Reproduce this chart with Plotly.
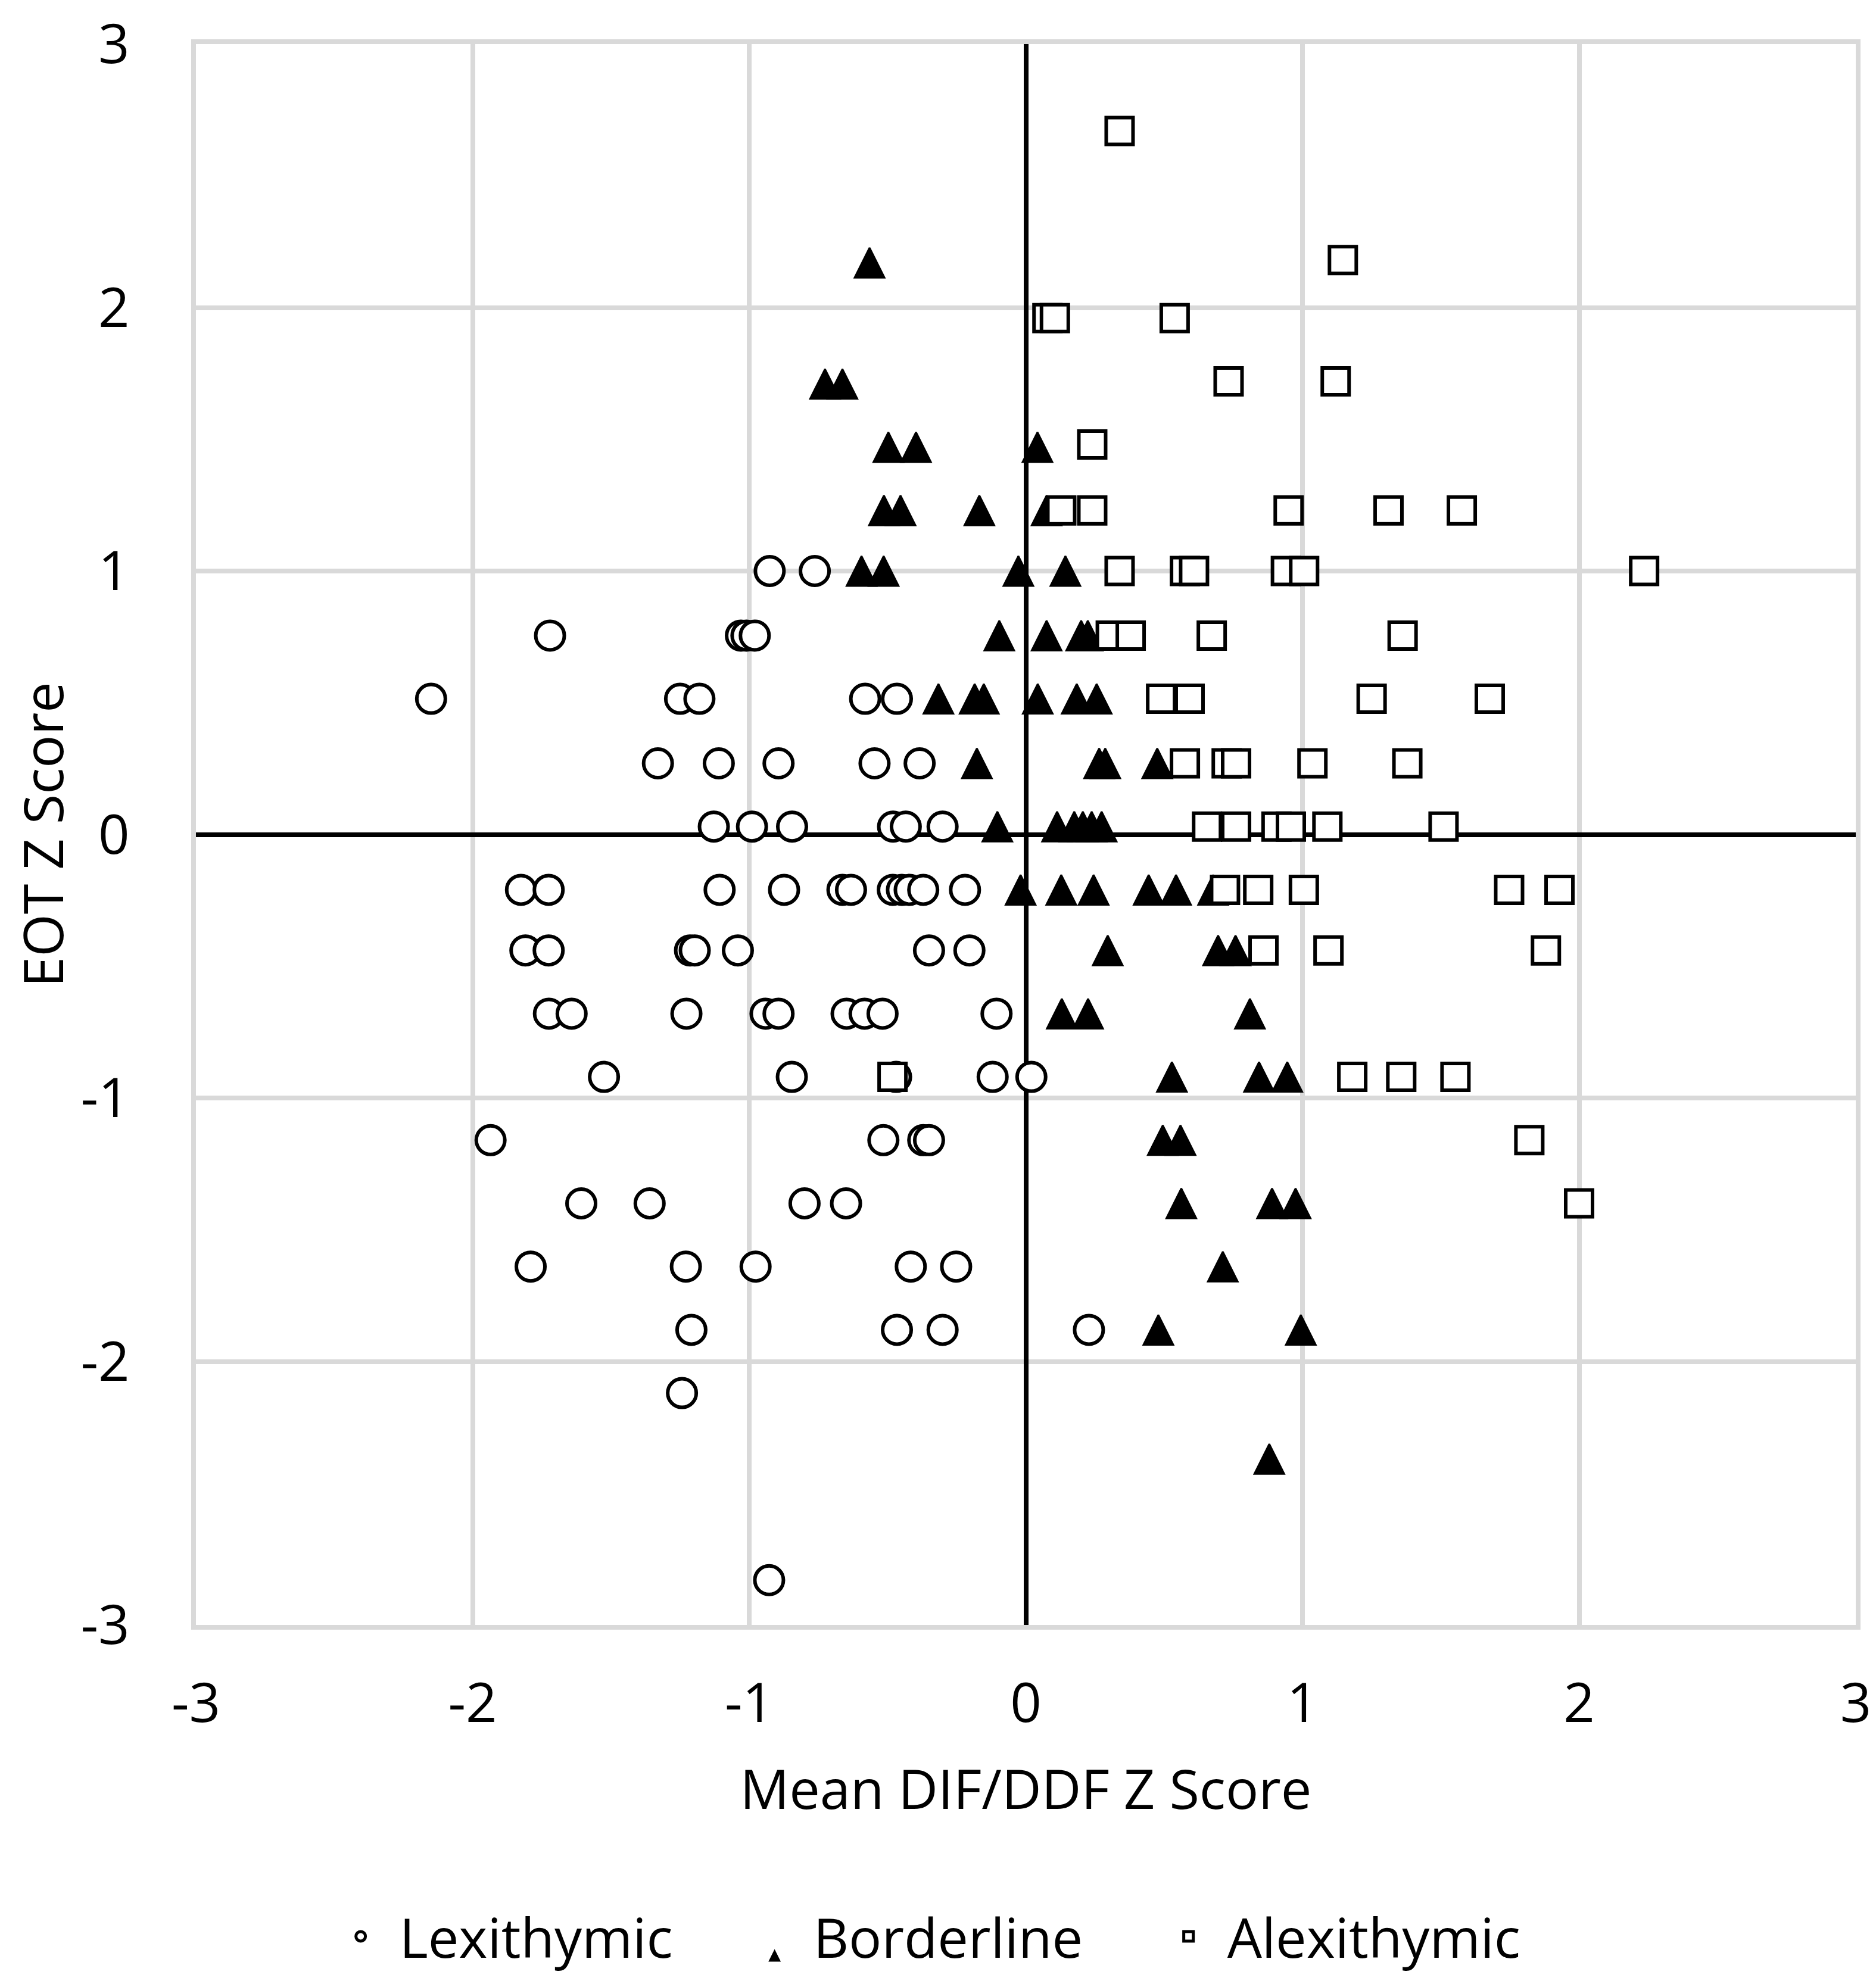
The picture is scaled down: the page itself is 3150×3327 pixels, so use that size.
import plotly.graph_objects as go

# Lexithymic (open circles)
lex_x = [-2.15, -1.25, -1.18, -0.581, -0.466,
         -1.72, -1.03, -1.01, -0.98,
         -0.926, -0.763,
         -1.33, -1.11, -0.894, -0.547, -0.384,
         -1.128, -0.99, -0.845, -0.48, -0.434, -0.301,
         -1.825, -1.725, -1.107, -0.874, -0.663, -0.632, -0.481, -0.448, -0.42, -0.371, -0.22,
         -1.809, -1.725, -1.214, -1.197, -1.041, -0.35, -0.204,
         -1.724, -1.642, -1.227, -0.941, -0.894, -0.648, -0.583, -0.518, -0.106,
         -1.525, -0.846, -0.469, -0.12, 0.02,
         -1.935, -0.515, -0.371, -0.35,
         -1.607, -1.36, -0.8, -0.65,
         -1.79, -1.229, -0.977, -0.416, -0.252,
         -1.209, -0.466, -0.301, 0.228,
         -1.243,
         -0.928]
lex_y = [0.515, 0.515, 0.515, 0.515, 0.515,
         0.755, 0.755, 0.755, 0.755,
         1.0, 1.0,
         0.27, 0.27, 0.27, 0.27, 0.27,
         0.03, 0.03, 0.03, 0.03, 0.03, 0.03,
         -0.21, -0.21, -0.21, -0.21, -0.21, -0.21, -0.21, -0.21, -0.21, -0.21, -0.21,
         -0.44, -0.44, -0.44, -0.44, -0.44, -0.44, -0.44,
         -0.68, -0.68, -0.68, -0.68, -0.68, -0.68, -0.68, -0.68, -0.68,
         -0.92, -0.92, -0.92, -0.92, -0.92,
         -1.16, -1.16, -1.16, -1.16,
         -1.40, -1.40, -1.40, -1.40,
         -1.64, -1.64, -1.64, -1.64, -1.64,
         -1.88, -1.88, -1.88, -1.88,
         -2.12,
         -2.83]

# Borderline (filled triangles)
bor_x = [-0.565,
         -0.726, -0.663,
         -0.497, -0.397, 0.042,
         -0.513, -0.453, -0.168, 0.075,
         -0.594, -0.514, -0.027, 0.143,
         -0.096, 0.075, 0.2, 0.224,
         -0.316, -0.185, -0.152, 0.043, 0.184, 0.256,
         -0.177, 0.265, 0.287, 0.475,
         -0.103, 0.113, 0.175, 0.206, 0.238, 0.274,
         -0.019, 0.128, 0.245, 0.444, 0.543, 0.677,
         0.296, 0.695, 0.758,
         0.13, 0.225, 0.81,
         0.528, 0.843, 0.945,
         0.495, 0.559,
         0.562, 0.89, 0.975,
         0.712,
         0.479, 0.994,
         0.88]
bor_y = [2.17,
         1.71, 1.71,
         1.47, 1.47, 1.47,
         1.23, 1.23, 1.23, 1.23,
         1.0, 1.0, 1.0, 1.0,
         0.755, 0.755, 0.755, 0.755,
         0.515, 0.515, 0.515, 0.515, 0.515, 0.515,
         0.27, 0.27, 0.27, 0.27,
         0.03, 0.03, 0.03, 0.03, 0.03, 0.03,
         -0.21, -0.21, -0.21, -0.21, -0.21, -0.21,
         -0.44, -0.44, -0.44,
         -0.68, -0.68, -0.68,
         -0.92, -0.92, -0.92,
         -1.16, -1.16,
         -1.40, -1.40, -1.40,
         -1.64,
         -1.88, -1.88,
         -2.37]

# Alexithymic (open squares)
alx_x = [0.339,
         1.146,
         0.078, 0.105, 0.538,
         0.733, 1.12,
         0.24,
         0.128, 0.24, 0.95, 1.311, 1.576,
         0.339, 0.575, 0.608, 0.94, 1.006, 2.235,
         0.307, 0.379, 0.672, 1.362,
         0.489, 0.592, 1.25, 1.677,
         0.575, 0.726, 0.76, 1.036, 1.379,
         0.655, 0.76, 0.906, 0.958, 1.09, 1.51,
         0.72, 0.84, 1.005, 1.747, 1.929,
         0.859, 1.094, 1.88,
         -0.482, 1.18, 1.357, 1.553,
         1.82,
         2.0]
alx_y = [2.67,
         2.18,
         1.96, 1.96, 1.96,
         1.72, 1.72,
         1.48,
         1.23, 1.23, 1.23, 1.23, 1.23,
         1.0, 1.0, 1.0, 1.0, 1.0, 1.0,
         0.755, 0.755, 0.755, 0.755,
         0.515, 0.515, 0.515, 0.515,
         0.27, 0.27, 0.27, 0.27, 0.27,
         0.03, 0.03, 0.03, 0.03, 0.03, 0.03,
         -0.21, -0.21, -0.21, -0.21, -0.21,
         -0.44, -0.44, -0.44,
         -0.92, -0.92, -0.92, -0.92,
         -1.16,
         -1.40]

tick_vals = [-3, -2, -1, 0, 1, 2, 3]
tick_text = ['-3', '-2', '-1', '0', '1', '2', '3']

FONT = 'Open Sans'
grid = '#d9d9d9'

fig = go.Figure()

fig.add_trace(go.Scatter(x=lex_x, y=lex_y, mode='markers', name='Lexithymic',
                         marker=dict(symbol='circle', size=48, color='white',
                                     line=dict(color='black', width=6))))

# arrow-down turned 180 deg and pushed back by half its size gives an upright centred triangle
tri_size = 50
fig.add_trace(go.Scatter(x=bor_x, y=bor_y, mode='markers', name='Borderline',
                         marker=dict(symbol='arrow-down', size=tri_size, color='black',
                                     angle=180, standoff=tri_size / 2,
                                     line=dict(color='black', width=3))))

fig.add_trace(go.Scatter(x=alx_x, y=alx_y, mode='markers', name='Alexithymic',
                         marker=dict(symbol='square', size=45, color='white',
                                     line=dict(color='black', width=6))))

axis_style = dict(range=[-3, 3], tickvals=tick_vals, ticktext=tick_text,
                  showgrid=True, gridcolor=grid, gridwidth=8,
                  zeroline=True, zerolinecolor='black', zerolinewidth=8,
                  showline=True, linecolor=grid, linewidth=8, mirror=True,
                  ticks='', ticklabeloverflow='allow', automargin=False,
                  tickfont=dict(family=FONT, size=92, color='black'))

fig.update_layout(
    width=3150, height=3327,
    margin=dict(l=321, r=42, t=66, b=606),
    paper_bgcolor='white', plot_bgcolor='white',
    xaxis=dict(axis_style, ticklabelstandoff=45,
               title=dict(text='Mean DIF/DDF Z Score', standoff=58,
                          font=dict(family=FONT, size=92, color='black'))),
    yaxis=dict(axis_style, ticklabelstandoff=85,
               title=dict(text='EOT Z Score', standoff=60,
                          font=dict(family=FONT, size=92, color='black'))),
    legend=dict(orientation='h', x=0.45, xanchor='center', y=-0.172, yanchor='top',
                itemwidth=120, entrywidth=560,
                font=dict(family=FONT, size=92, color='black')),
    showlegend=True,
)

fig.write_html("out.html")
